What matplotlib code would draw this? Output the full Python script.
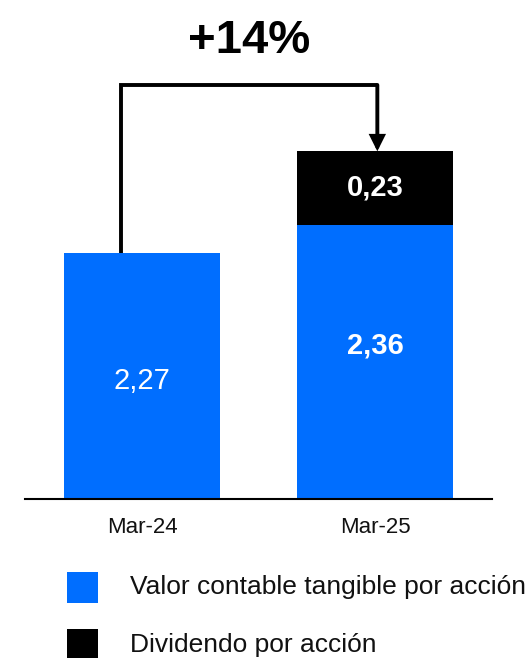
import matplotlib
matplotlib.use("Agg")
import matplotlib.pyplot as plt
from matplotlib.patches import Rectangle

plt.rcParams['font.family'] = ['Liberation Sans', 'DejaVu Sans']

periods = ['Mar-24', 'Mar-25']
tangible_bv = [2.27, 2.36]
dividend = [0.0, 0.23]
growth_label = '+14%'
series_names = ['Valor contable tangible por acción', 'Dividendo por acción']

BLUE = '#006EFF'
BLACK = '#000000'

W, H = 526, 658
fig = plt.figure(figsize=(W / 100, H / 100), dpi=100)

# axes placed in pixel terms: baseline at y=499, spanning full height above it
ax = fig.add_axes([25.5 / W, 1 - 499 / H, 466 / W, 499 / H])
ax.set_xlim(-0.5, 1.5)
ymin = 1.5
ax.set_ylim(ymin, ymin + 499 / 319)

x = list(range(len(periods)))
bw = 0.67
ax.bar(x, [v - ymin for v in tangible_bv], bottom=ymin, width=bw,
       color=BLUE, edgecolor='none')
ax.bar(x[1], dividend[1], bottom=tangible_bv[1], width=bw,
       color=BLACK, edgecolor='none')

# value labels
ax.text(x[0], (ymin + tangible_bv[0]) / 2 - 0.015, f'{tangible_bv[0]:.2f}'.replace('.', ','),
        ha='center', va='center', color='white', fontsize=21)
ax.text(x[1], (ymin + tangible_bv[1]) / 2 + 0.05, f'{tangible_bv[1]:.2f}'.replace('.', ','),
        ha='center', va='center', color='white', fontsize=21, fontweight='bold')
ax.text(x[1], tangible_bv[1] + dividend[1] / 2, f'{dividend[1]:.2f}'.replace('.', ','),
        ha='center', va='center', color='white', fontsize=21, fontweight='bold')

# growth bracket from first bar top to second bar total
level = 2.798
x_left = x[0] - 0.09
x_right = x[1] + 0.01
total_2 = tangible_bv[1] + dividend[1]
ax.plot([x_left, x_left, x_right], [tangible_bv[0], level, level],
        color='black', lw=2.8, solid_joinstyle='miter', solid_capstyle='butt',
        clip_on=False)
ax.annotate('', xy=(x_right, total_2), xytext=(x_right, level),
            arrowprops=dict(arrowstyle='-|>', color='black', lw=2.8,
                            mutation_scale=20, shrinkA=0, shrinkB=0,
                            joinstyle='miter'),
            annotation_clip=False)
ax.text((x_left + x_right) / 2, level + 0.137, growth_label,
        ha='center', va='center', fontsize=34, fontweight='bold')

for s in ['top', 'left', 'right']:
    ax.spines[s].set_visible(False)
ax.spines['bottom'].set_linewidth(1.5)
ax.set_yticks([])
ax.set_xticks(x)
ax.set_xticklabels(periods, fontsize=16, color='#111111')
ax.tick_params(axis='x', length=0, pad=13)

# legend drawn in figure pixels
for i, (name, col) in enumerate(zip(series_names, [BLUE, BLACK])):
    top = 571.7 + i * 57.5
    fig.add_artist(Rectangle((66.7 / W, 1 - (top + 31) / H), 31 / W, 31 / H,
                             transform=fig.transFigure, color=col, lw=0))
    fig.text(130 / W, 1 - (top + 15.5) / H, name, fontsize=19,
             ha='left', va='center', color='#111111')

fig.savefig('out.png', dpi=100)
